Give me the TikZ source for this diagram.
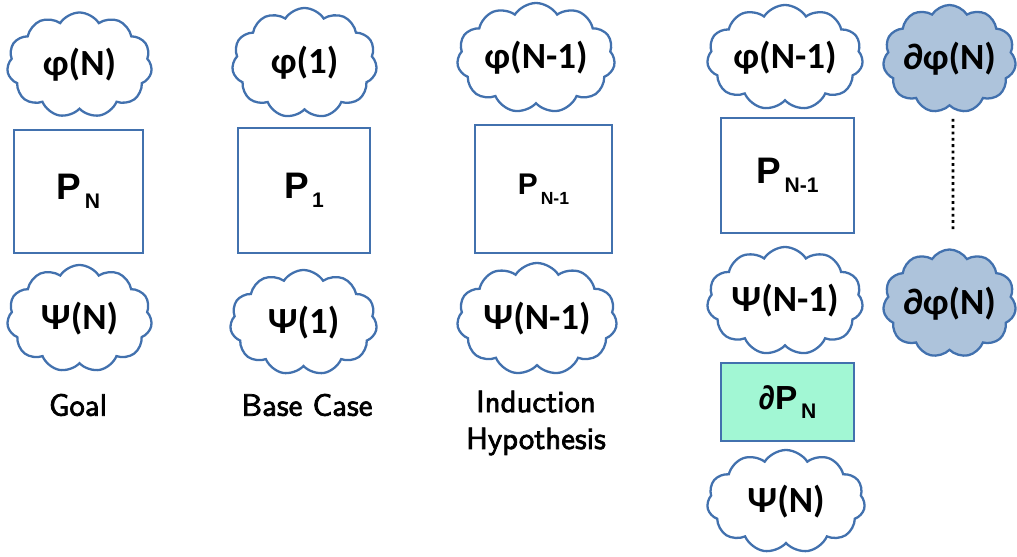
\documentclass[tikz,border=0pt]{standalone}
\usepackage{fontspec}
\newfontfamily\cloudfont{Carlito}
\newfontfamily\boxfont{Liberation Sans}
\newfontfamily\capfont[FakeBold=2.4]{lmsans10-regular.otf}
\usetikzlibrary{shapes.symbols,positioning}
\definecolor{edgeblue}{HTML}{4271AE}
\definecolor{cloudfill}{HTML}{ADC3DB}
\definecolor{boxgreen}{HTML}{A2F7D4}
\tikzset{every picture/.style={line width=1.3pt}}
\tikzset{
  bubble/.style={cloud, cloud puffs=11, cloud puff arc=115, draw=edgeblue, fill=white,
    inner sep=0pt, font=\cloudfont\bfseries\fontsize{21}{25}\selectfont},
  shadebubble/.style={bubble, fill=cloudfill},
  prog/.style={rectangle, draw=edgeblue, fill=white, inner sep=0pt,
    font=\boxfont\bfseries\fontsize{21}{25}\selectfont},
  caption/.style={font=\capfont\fontsize{17.5}{21}\selectfont, align=center},
  dotline/.style={black, line width=1.6pt, dash pattern=on 1.6pt off 2pt}
}
% 下标：比 P 更低、更小
\newcommand{\lowsub}[2][12]{\raisebox{-0.19cm}{\fontsize{#1}{14}\selectfont\,#2}}
% 云内文字不占宽度，云的大小只由 minimum width/height 决定
\newcommand{\cloudtext}[1]{\makebox[0pt]{#1}}

\begin{document}
\begin{tikzpicture}
    \useasboundingbox (0,0) rectangle (20.34,11.14);

    % 第一列：目标
    \node[bubble, minimum width=2.9cm, minimum height=2.1cm] (phiN) at (1.59,9.84) {\cloudtext{φ(N)}};
    \node[prog, minimum width=2.58cm, minimum height=2.46cm] (pN) at (1.57,7.31) {P\lowsub{N}};
    \node[bubble, minimum width=2.9cm, minimum height=2.14cm] (psiN) at (1.59,4.77) {\cloudtext{Ψ(N)}};
    \node[caption] (goal) at (1.56,3.04) {Goal};

    % 第二列：初始情形
    \node[bubble, minimum width=2.9cm, minimum height=2.2cm] (phiOne) at (6.09,9.88) {\cloudtext{φ(1)}};
    \node[prog, minimum width=2.64cm, minimum height=2.5cm] (pOne) at (6.08,7.33) {P\lowsub{1}};
    \node[bubble, minimum width=2.94cm, minimum height=2.1cm] (psiOne) at (6.07,4.69) {\cloudtext{Ψ(1)}};
    \node[caption] (base) at (6.14,3.04) {Base Case};

    % 第三列：归纳假设
    \node[bubble, minimum width=3.16cm, minimum height=2.2cm] (phiPrev) at (10.72,9.98) {\cloudtext{φ(N-1)}};
    \node[prog, minimum width=2.74cm, minimum height=2.56cm, font=\boxfont\bfseries\fontsize{17}{20}\selectfont]
        (pPrev) at (10.87,7.36) {P\lowsub[10]{N-1}};
    \node[bubble, minimum width=3.2cm, minimum height=2.24cm] (psiPrev) at (10.74,4.76) {\cloudtext{Ψ(N-1)}};
    \node[caption] (hyp) at (10.72,2.68) {Induction\\Hypothesis};

    % 第四列：归纳步骤
    \node[bubble, minimum width=3.12cm, minimum height=2.1cm] (stepPhi) at (15.7,9.99) {\cloudtext{φ(N-1)}};
    \node[prog, minimum width=2.66cm, minimum height=2.3cm] (stepP) at (15.75,7.63) {P\lowsub{N-1}};
    \node[bubble, minimum width=3.12cm, minimum height=2.16cm] (stepPsi) at (15.7,5.12) {\cloudtext{Ψ(N-1)}};
    \node[prog, fill=boxgreen, minimum width=2.66cm, minimum height=1.56cm,
        font=\boxfont\bfseries\fontsize{19}{22}\selectfont] (dP) at (15.75,3.1) {∂P\lowsub{N}};
    \node[bubble, minimum width=3.16cm, minimum height=2.06cm] (stepPsiN) at (15.72,1.11) {\cloudtext{Ψ(N)}};

    % 第五列：边界条件
    \node[shadebubble, minimum width=2.66cm, minimum height=2.16cm] (dTop) at (18.99,9.96) {\cloudtext{∂φ(N)}};
    \node[shadebubble, minimum width=2.66cm, minimum height=2.16cm] (dBot) at (18.99,5.07) {\cloudtext{∂φ(N)}};
    \draw[dotline, shorten <=0.24cm, shorten >=0.34cm] ([xshift=0.07cm]dTop.south) -- ([xshift=0.07cm]dBot.north);
\end{tikzpicture}
\end{document}
